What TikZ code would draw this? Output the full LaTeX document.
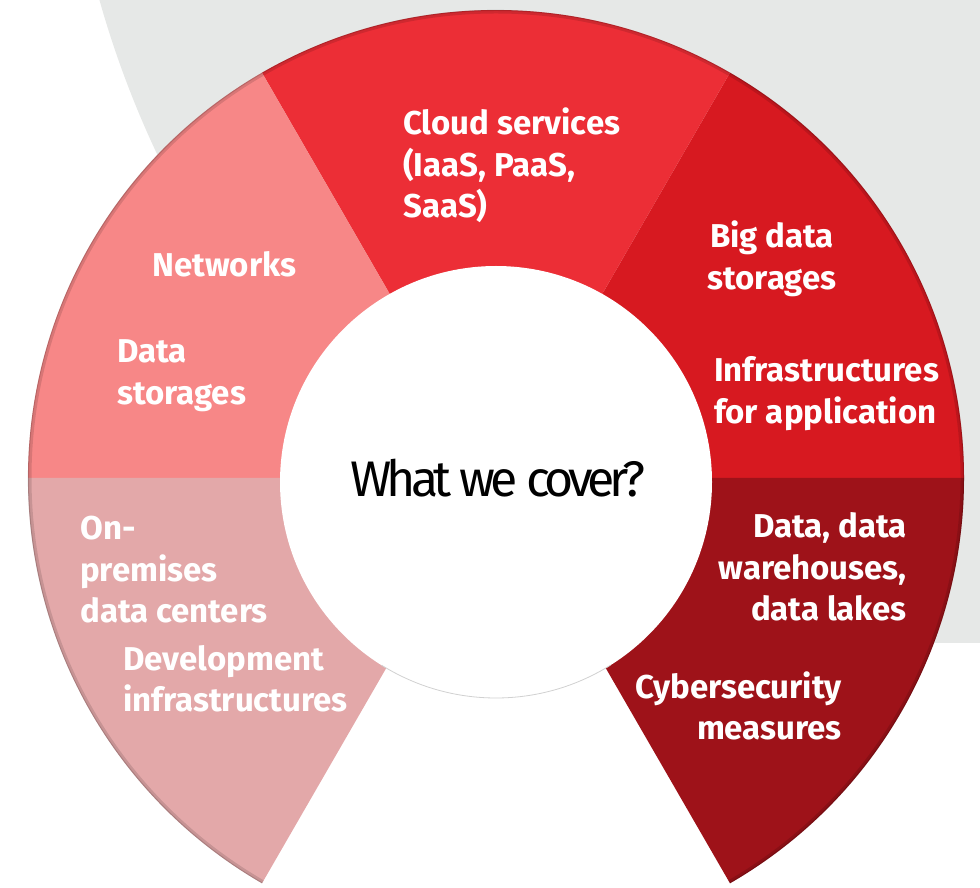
\documentclass[tikz,border=0pt]{standalone}
\usepackage{fontspec}
\setmainfont{Fira Sans}
\newfontfamily\whatfont{Fira Sans}[LetterSpace=-10]
\definecolor{greyback}{HTML}{E6E8E7}
\definecolor{netred}{HTML}{F78787}
\definecolor{cloudred}{HTML}{EC2E36}
\definecolor{bigred}{HTML}{D71920}
\definecolor{datared}{HTML}{9E1219}
\definecolor{premred}{HTML}{E3A8A9}
\begin{document}
\begin{tikzpicture}[x=1pt,y=1pt,
  every node/.style={inner sep=0pt},
  topic/.style={text=white,font=\bfseries\fontsize{33}{41.5}\selectfont}]
\useasboundingbox (0,0) rectangle (980,887);
% grey backdrop
\begin{scope}
  \clip (0,244) rectangle (980,887);
  \fill[greyback] (1062,1159) circle (1000);
\end{scope}
% ring
\coordinate (c) at (496,409);
\foreach \a/\col in {0/bigred,60/cloudred,120/netred,180/premred,300/datared}
  \fill[\col] (c) -- ++(\a:468) arc[start angle=\a,delta angle=60,radius=468] -- cycle;
\begin{scope}
  \clip (c) -- ++(-60:468) arc[start angle=-60,end angle=240,radius=468] -- cycle;
  \draw[black,opacity=.12,line width=7] (c) circle (468);
  \draw[black,opacity=.15,line width=2] (c) circle (468);
\end{scope}
% centre
\coordinate (m) at (496,405);
\fill[white] (m) circle (216);
\draw[black!18,line width=.8] (m) ++(238:216) arc[start angle=238,end angle=302,radius=216];
\node[anchor=base,font=\whatfont\fontsize{50}{50}\selectfont] (what) at (498,390) {What we cover?};
% topics (base = last line)
\node[topic,anchor=base west,align=left] (cloud) at (403,669) {Cloud services\\(IaaS, PaaS,\\SaaS)};
\node[topic,anchor=base west] (networks) at (152,610) {Networks};
\node[topic,anchor=base west,align=left] (storages) at (117,482.5) {Data\\storages};
\node[topic,anchor=base,align=center] (bigdata) at (772,597.5) {Big data\\storages};
\node[topic,anchor=base west,align=left] (apps) at (714,463.5) {Infrastructures\\for application};
\node[topic,anchor=base west,align=left] (onprem) at (80,264) {On-\\premises\\data centers};
\node[topic,anchor=base west,align=left] (devinfra) at (123,175.5) {Development\\infrastructures};
\node[topic,anchor=base east,align=right] (lakes) at (907,266) {Data, data\\warehouses,\\data lakes};
\node[topic,anchor=base east,align=right] (cyber) at (842,147.5) {Cybersecurity\\measures};
\end{tikzpicture}
\end{document}
